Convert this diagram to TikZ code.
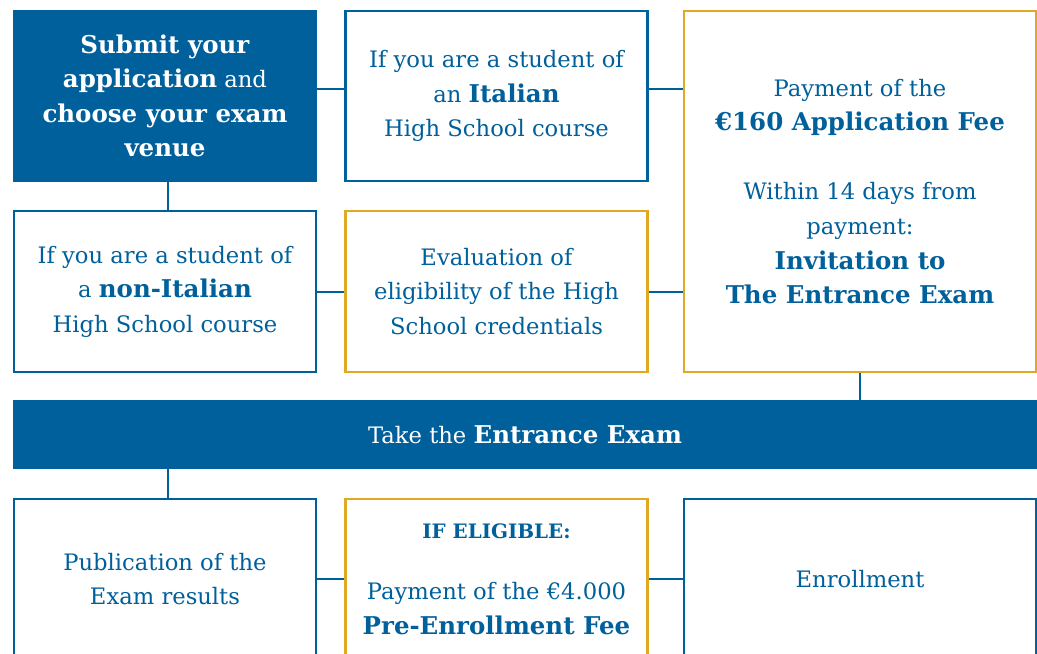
\documentclass[tikz,border=0pt]{standalone}
\usepackage{fontspec}
\setmainfont{DejaVu Serif}[BoldFeatures={Scale=1.08}]
\usetikzlibrary{positioning}
\definecolor{uniblue}{HTML}{00609C}
\definecolor{unigold}{HTML}{E0A823}
\newcommand{\bodyfont}{\fontsize{17}{25.9}\selectfont}
\newcommand{\smallcaps}{\fontsize{13.8}{14}\selectfont}

\tikzset{
  stepbox/.style={draw=uniblue, line width=1.9pt, text=uniblue, fill=white,
    align=center, inner sep=0pt, font=\bodyfont,
    minimum width=226.5pt, minimum height=120.75pt},
  goldbox/.style={stepbox, draw=unigold},
  darkbox/.style={stepbox, fill=uniblue, text=white, line width=1pt},
  link/.style={draw=uniblue, line width=1.5pt}
}

\begin{document}
\begin{tikzpicture}[x=0.75pt, y=-0.75pt]
  \useasboundingbox (0,0) rectangle (1037,653);
  \clip (0,0) rectangle (1037,653);
  % first row
  \node[darkbox, minimum height=127.5pt] (submit) at (165,96)
    {\textbf{Submit your}\\ \textbf{application} and\\ \textbf{choose your exam}\\ \textbf{venue}};
  \node[stepbox, minimum height=127.5pt] (italian) at (496.5,96)
    {If you are a student of\\ an \textbf{Italian}\\ High School course};
  \node[goldbox, minimum width=264pt, minimum height=270.75pt] (fee) at (860,191.5)
    {Payment of the\\ \textbf{€160 Application Fee}\\[25.9pt]
     Within 14 days from\\ payment:\\ \textbf{Invitation to}\\ \textbf{The Entrance Exam}};
  % second row
  \node[stepbox] (foreign) at (165,291.5)
    {If you are a student of\\ a \textbf{non-Italian}\\ High School course};
  \node[goldbox] (eval) at (496.5,291.5)
    {Evaluation of\\ eligibility of the High\\ School credentials};
  % exam bar
  \node[darkbox, minimum width=766.5pt, minimum height=50.25pt] (exam) at (525,434.5)
    {Take the \textbf{Entrance Exam}};
  % last row
  \node[stepbox, minimum height=120pt] (results) at (165,579)
    {Publication of the\\ Exam results};
  \node[goldbox, minimum height=120pt] (prefee) at (496.5,579)
    {{\smallcaps\textbf{IF ELIGIBLE:}}\\[20pt]
     Payment of the €4.000\\ \textbf{Pre-Enrollment Fee}};
  \node[stepbox, minimum width=264pt, minimum height=120pt] (enrol) at (860,579)
    {Enrollment};
  % connectors
  \draw[link] ([yshift=5.25pt]submit.east) -- ([yshift=5.25pt]italian.west);
  \draw[link] ([yshift=5.25pt]italian.east) -- ([yshift=5.25pt]italian.east -| fee.west);
  \draw[link] ([xshift=2.25pt]submit.south) -- ([xshift=2.25pt]foreign.north);
  \draw[link] (foreign.east) -- (eval.west);
  \draw[link] (eval.east) -- (eval.east -| fee.west);
  \draw[link] (fee.south) -- (fee.south |- exam.north);
  \draw[link] ([xshift=2.25pt]results.north |- exam.south) -- ([xshift=2.25pt]results.north);
  \draw[link] (results.east) -- (prefee.west);
  \draw[link] (prefee.east) -- (enrol.west);
\end{tikzpicture}
\end{document}
